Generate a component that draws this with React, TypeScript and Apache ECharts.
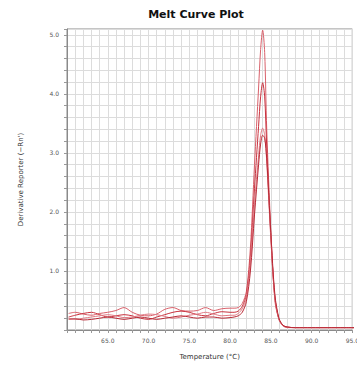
import React, { useEffect, useRef } from "react";
import * as echarts from "echarts";

const temps = [60.2, 61, 62, 63, 64, 65, 66, 67, 68, 69, 70, 71, 72, 73, 74, 75, 76, 77, 78, 79, 80,
  80.5, 81, 81.5, 82, 82.5, 83, 83.5, 83.75, 84, 84.25, 84.5, 85, 85.5, 86, 86.5, 87, 88, 90, 92, 94, 96];

const wellA = [0.28, 0.3, 0.27, 0.25, 0.28, 0.3, 0.33, 0.38, 0.3, 0.25, 0.24, 0.27, 0.35, 0.38, 0.33, 0.32, 0.33, 0.38, 0.33, 0.36, 0.37,
  0.37, 0.38, 0.45, 0.65, 1.4, 2.8, 4.1, 4.75, 5.08, 4.7, 3.4, 1.7, 0.5, 0.18, 0.08, 0.05, 0.04, 0.04, 0.04, 0.04, 0.04];
const wellB = [0.22, 0.25, 0.28, 0.3, 0.26, 0.22, 0.24, 0.26, 0.24, 0.2, 0.18, 0.22, 0.26, 0.3, 0.32, 0.3, 0.26, 0.24, 0.28, 0.31, 0.3,
  0.3, 0.32, 0.4, 0.6, 1.25, 2.4, 3.45, 3.95, 4.19, 3.95, 3.1, 1.6, 0.55, 0.18, 0.07, 0.05, 0.04, 0.04, 0.04, 0.04, 0.04];
const wellC = [0.2, 0.18, 0.2, 0.22, 0.24, 0.26, 0.24, 0.21, 0.22, 0.25, 0.27, 0.26, 0.23, 0.2, 0.22, 0.25, 0.27, 0.3, 0.27, 0.24, 0.25,
  0.25, 0.28, 0.36, 0.55, 1.15, 2.15, 2.95, 3.3, 3.42, 3.3, 2.85, 1.55, 0.55, 0.18, 0.07, 0.04, 0.04, 0.04, 0.04, 0.04, 0.04];
const wellD = [0.18, 0.19, 0.17, 0.18, 0.2, 0.22, 0.2, 0.18, 0.2, 0.22, 0.2, 0.18, 0.2, 0.22, 0.24, 0.22, 0.2, 0.22, 0.22, 0.2, 0.21,
  0.22, 0.24, 0.3, 0.48, 1.0, 1.95, 2.8, 3.15, 3.3, 3.25, 2.9, 1.65, 0.6, 0.2, 0.08, 0.05, 0.04, 0.04, 0.04, 0.04, 0.04];

const wells = [wellA, wellB, wellC, wellD];
const wellColors = ["#d8606a", "#c8323e", "#e07a84", "#b82834"];

export default function App() {
  const ref = useRef<HTMLDivElement>(null);
  useEffect(() => {
    if (!ref.current) return;
    const chart = echarts.init(ref.current, null, { renderer: "svg" });
    const font = "DejaVu Sans";
    chart.setOption({
      animation: false,
      backgroundColor: "#ffffff",
      graphic: [
        {
          type: "text",
          x: 196,
          y: 14,
          style: {
            text: "Melt Curve Plot",
            font: `bold 11px "${font}"`,
            fill: "#111",
            textAlign: "center",
            textVerticalAlign: "middle",
          },
        },
      ],
      grid: { left: 67, top: 29, width: 292, height: 301, show: true, borderColor: "#8a8a8a", borderWidth: 1 },
      xAxis: {
        type: "value",
        min: 60,
        max: 95,
        interval: 1,
        name: "Temperature (°C)",
        nameLocation: "middle",
        nameGap: 23,
        nameTextStyle: { fontFamily: font, fontSize: 7, color: "#333" },
        axisLine: { lineStyle: { color: "#8a8a8a" } },
        axisTick: { show: true, length: 3, lineStyle: { color: "#999" } },
        splitLine: { show: true, lineStyle: { color: "#dcdcdc", width: 1 } },
        axisLabel: {
          interval: 0,
          fontFamily: font,
          fontSize: 6,
          color: "#555",
          margin: 7,
          formatter: (v: number) => (Math.round(v) % 5 === 0 && Math.round(v) !== 60 ? v.toFixed(1) : ""),
        },
      },
      yAxis: {
        type: "value",
        min: 0,
        max: 5.1,
        interval: 0.2,
        name: "Derivative Reporter (\u2212Rn')",
        nameLocation: "middle",
        nameGap: 43,
        nameTextStyle: { fontFamily: font, fontSize: 7, color: "#333" },
        axisLine: { show: true, lineStyle: { color: "#8a8a8a" } },
        axisTick: { show: true, length: 3, lineStyle: { color: "#999" } },
        splitLine: { show: true, lineStyle: { color: "#dcdcdc", width: 1 } },
        axisLabel: {
          interval: 0,
          fontFamily: font,
          fontSize: 6,
          color: "#555",
          margin: 8,
          formatter: (v: number) =>
            v > 0.5 && Math.abs(v - Math.round(v)) < 1e-6 ? v.toFixed(1) : "",
        },
      },
      series: wells.map((w, i) => ({
        type: "line",
        data: temps.map((t, j) => [t, w[j]]),
        showSymbol: false,
        smooth: 0.3,
        clip: true,
        lineStyle: { width: 1, color: wellColors[i] },
      })),
    });
    return () => chart.dispose();
  }, []);
  return (
    <div style={{ position: "fixed", left: 0, top: 0, width: 357, height: 366, overflow: "hidden", background: "#fff" }}>
      <div ref={ref} style={{ width: 362, height: 366 }} />
    </div>
  );
}
